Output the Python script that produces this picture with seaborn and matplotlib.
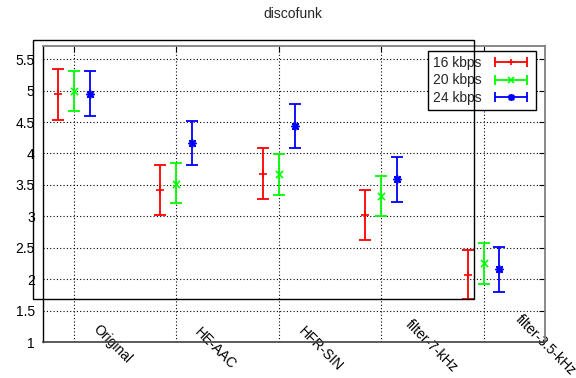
import numpy as np
import pandas as pd
import matplotlib
matplotlib.use("Agg")
import matplotlib.pyplot as plt
import seaborn as sns
from matplotlib.lines import Line2D
from matplotlib.legend_handler import HandlerLine2D, HandlerTuple
from matplotlib.patches import Rectangle
from matplotlib.transforms import ScaledTranslation
from matplotlib.ticker import FuncFormatter

conditions = ["Original", "HE-AAC", "HFR-SIN", "filter-7-kHz", "filter-3.5-kHz"]
bitrates = ["16 kbps", "20 kbps", "24 kbps"]

mean_16 = [4.94, 3.42, 3.68, 3.02, 2.07]
low_16 = [4.53, 3.02, 3.27, 2.62, 1.68]
high_16 = [5.34, 3.82, 4.08, 3.42, 2.47]

mean_20 = [5.00, 3.52, 3.67, 3.32, 2.25]
low_20 = [4.67, 3.21, 3.34, 3.00, 1.92]
high_20 = [5.32, 3.85, 3.99, 3.64, 2.57]

mean_24 = [4.95, 4.17, 4.44, 3.59, 2.16]
low_24 = [4.60, 3.81, 4.08, 3.22, 1.80]
high_24 = [5.31, 4.52, 4.79, 3.94, 2.51]

y_ticks = [1, 1.5, 2, 2.5, 3, 3.5, 4, 4.5, 5, 5.5]

colors = ["#ff0000", "#00ff00", "#0000ff"]
markers = ["+", "x", (8, 2, 0)]
offsets = [-0.155, 0.0, 0.155]
# per-label nudges (pixels, x right / y up) for the slanted category names
label_nudge = [(0, 0), (-1, -3), (0, -2), (5, 5), (12, 10)]

rows = []
for b, m, lo, hi in zip(bitrates, [mean_16, mean_20, mean_24],
                        [low_16, low_20, low_24], [high_16, high_20, high_24]):
    for i, c in enumerate(conditions):
        rows.append({"condition": c, "pos": i + 1, "bitrate": b,
                     "mean": m[i], "low": lo[i], "high": hi[i]})
df = pd.DataFrame(rows)

sns.set_style("white")
plt.rcParams["font.family"] = ["Liberation Sans", "DejaVu Sans"]
plt.rcParams["font.size"] = 10

fig = plt.figure(figsize=(5.76, 3.78), dpi=100)
ax = fig.add_axes([43 / 576, 1 - 342 / 378, (545 - 43) / 576, (342 - 46) / 378])

handles = []
handler_map = {}
for b, col, mk, off in zip(bitrates, colors, markers, offsets):
    sub = df[df["bitrate"] == b]
    x = sub["pos"].to_numpy() + off
    y = sub["mean"].to_numpy()
    yerr = [y - sub["low"].to_numpy(), sub["high"].to_numpy() - y]
    ax.errorbar(x, y, yerr=yerr, fmt="none", ecolor=col, elinewidth=1.3,
                capsize=4, capthick=1.3, zorder=3)
    sns.scatterplot(x=x, y=y, marker=mk, color=col, s=26, linewidth=1.2,
                    ax=ax, legend=False, zorder=4)
    bar = Line2D([], [], color=col, lw=1.3, marker="|", markersize=7,
                 markeredgewidth=1.3)
    ctr = Line2D([], [], color=col, lw=0, marker=mk, markersize=5,
                 markeredgewidth=1.2)
    handler_map[bar] = HandlerLine2D(numpoints=2)
    handler_map[ctr] = HandlerLine2D(numpoints=1)
    handles.append((bar, ctr))

handler_map[tuple] = HandlerTuple(ndivide=1, pad=0)

ax.set_xlim(0.7, 5.6)
ax.set_ylim(1, 5.71)
ax.set_xticks(range(1, len(conditions) + 1))
ax.set_xticklabels(conditions, rotation=-45, ha="left", va="center",
                   rotation_mode="anchor")
ax.set_yticks(y_ticks)
ax.yaxis.set_major_formatter(FuncFormatter(lambda v, p: f"{v:g}"))
ax.set_xlabel("")
ax.set_ylabel("")

ax.grid(True, color="black", linestyle=(0, (1, 2)), linewidth=0.8)
ax.set_axisbelow(True)
ax.tick_params(direction="in", length=4, width=0.8, top=True, right=True,
               colors="black", labelsize=10)
ax.tick_params(axis="y", pad=6)
ax.tick_params(axis="x", pad=0)
for lab, (nx, ny) in zip(ax.get_xticklabels(), label_nudge):
    shift = ScaledTranslation((22 + nx) / 100, (15 + ny) / 100,
                              fig.dpi_scale_trans)
    lab.set_transform(lab.get_transform() + shift)

for side in ["top", "right"]:
    ax.spines[side].set_color("#808080")
    ax.spines[side].set_linewidth(1.3)
ax.spines["left"].set_color("black")
ax.spines["left"].set_linewidth(1.0)
ax.spines["bottom"].set_color("#404040")
ax.spines["bottom"].set_linewidth(1.2)

leg = ax.legend(handles, bitrates, handler_map=handler_map, loc="upper right",
                bbox_to_anchor=(0.982, 0.983), borderaxespad=0,
                markerfirst=False, fancybox=False, framealpha=1,
                edgecolor="black", handlelength=2.9, handletextpad=0.65,
                labelspacing=0.25, borderpad=0.35, fontsize=10)
leg.get_frame().set_linewidth(1.0)
leg.set_zorder(6)

fig.add_artist(Rectangle((33 / 576, 1 - 299 / 378), (474 - 33) / 576,
                         (299 - 40) / 378, transform=fig.transFigure,
                         fill=False, edgecolor="black", linewidth=1.0,
                         zorder=10))

fig.text(293 / 576, 1 - 14 / 378, "discofunk", ha="center", va="center",
         fontsize=10)

fig.savefig("out.png", dpi=100)
